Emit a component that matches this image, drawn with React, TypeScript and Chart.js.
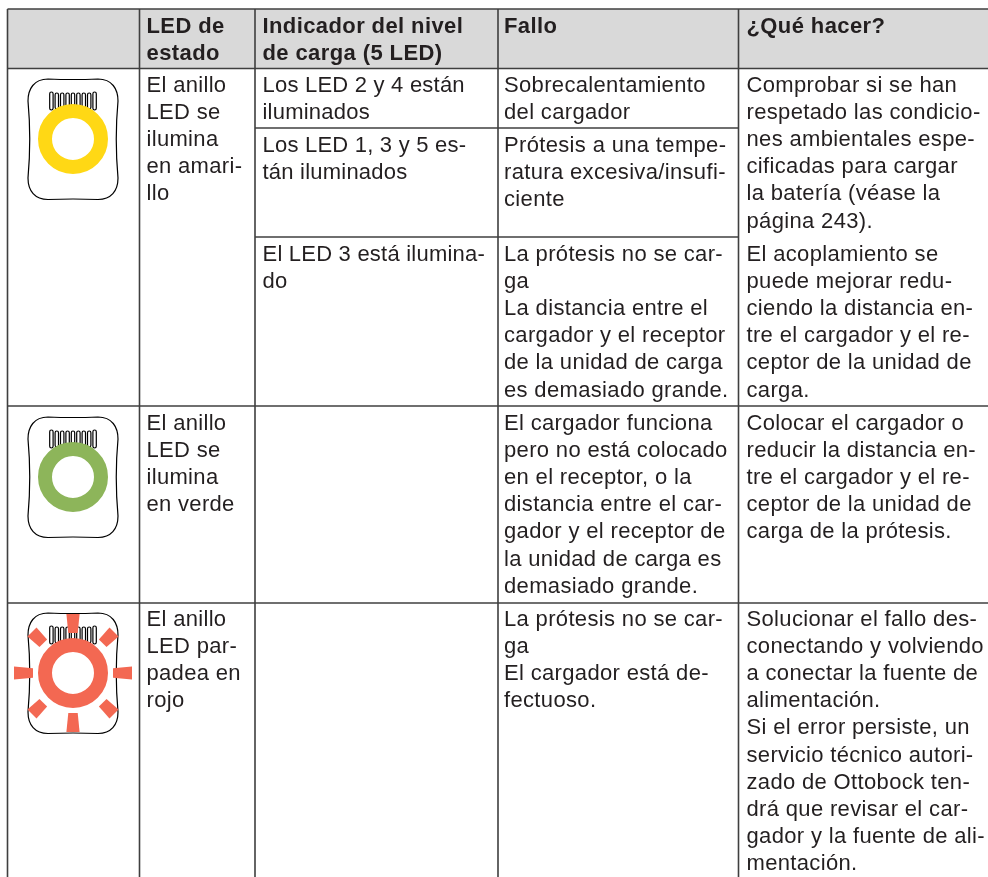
import React, { useEffect, useRef } from "react";
import { Chart, registerables } from "chart.js";

Chart.register(...registerables);

const W = 988;
const H = 877;

// ---- table content ----
const headLed = ["LED de", "estado"];
const headIndicator = ["Indicador del nivel", "de carga (5 LED)"];
const headFault = ["Fallo"];
const headAction = ["¿Qué hacer?"];

const statusYellow = ["El anillo", "LED se", "ilumina", "en amari-", "llo"];
const statusGreen = ["El anillo", "LED se", "ilumina", "en verde"];
const statusRed = ["El anillo", "LED par-", "padea en", "rojo"];

const indicatorA = ["Los LED 2 y 4 están", "iluminados"];
const indicatorB = ["Los LED 1, 3 y 5 es-", "tán iluminados"];
const indicatorC = ["El LED 3 está ilumina-", "do"];

const faultA = ["Sobrecalentamiento", "del cargador"];
const faultB = ["Prótesis a una tempe-", "ratura excesiva/insufi-", "ciente"];
const faultC = ["La prótesis no se car-", "ga", "La distancia entre el", "cargador y el receptor", "de la unidad de carga", "es demasiado grande."];
const faultD = ["El cargador funciona", "pero no está colocado", "en el receptor, o la", "distancia entre el car-", "gador y el receptor de", "la unidad de carga es", "demasiado grande."];
const faultE = ["La prótesis no se car-", "ga", "El cargador está de-", "fectuoso."];

const actionA = ["Comprobar si se han", "respetado las condicio-", "nes ambientales espe-", "cificadas para cargar", "la batería (véase la", "página 243)."];
const actionB = ["El acoplamiento se", "puede mejorar redu-", "ciendo la distancia en-", "tre el cargador y el re-", "ceptor de la unidad de", "carga."];
const actionC = ["Colocar el cargador o", "reducir la distancia en-", "tre el cargador y el re-", "ceptor de la unidad de", "carga de la prótesis."];
const actionD = ["Solucionar el fallo des-", "conectando y volviendo", "a conectar la fuente de", "alimentación.", "Si el error persiste, un", "servicio técnico autori-", "zado de Ottobock ten-", "drá que revisar el car-", "gador y la fuente de ali-", "mentación."];

// ---- led rings ----
const ringColors = ["#FFD815", "#8DB55A", "#F36852"];
const ringCentres = [
  { x: 73, y: 139 },
  { x: 73, y: 477 },
  { x: 73, y: 673 },
];
const rayAngles = [0, 45, 90, 135, 180, 225, 270, 315];

// ---- table rules ----
const columnRules = [7.5, 139.5, 255, 498, 738.5];
const headerRules = [9, 68.5];
const bodyRules = [406, 603];
const partialRules = [
  { y: 128, from: 255, to: 738.5 },
  { y: 237, from: 255, to: 738.5 },
];

// ---- text placement: lines, left edge, first baseline ----
const textX = [146.5, 262.5, 504, 746.5];
const spacing = ["0.32px", "0.22px", "0.34px", "0.34px"];
const LINE = 27.1;
const placements: [string[], number, number, boolean][] = [
  [headLed, 0, 33, true],
  [headIndicator, 1, 33, true],
  [headFault, 2, 33, true],
  [headAction, 3, 33, true],
  [statusYellow, 0, 92, false],
  [statusGreen, 0, 430, false],
  [statusRed, 0, 626, false],
  [indicatorA, 1, 92, false],
  [indicatorB, 1, 152, false],
  [indicatorC, 1, 261, false],
  [faultA, 2, 92, false],
  [faultB, 2, 152, false],
  [faultC, 2, 261, false],
  [faultD, 2, 430, false],
  [faultE, 2, 626, false],
  [actionA, 3, 92, false],
  [actionB, 3, 261, false],
  [actionC, 3, 430, false],
  [actionD, 3, 626, false],
];

const RULE = "#3f3f3f";

function ruleDataset(x1: number, y1: number, x2: number, y2: number) {
  return {
    type: "line" as const,
    data: [{ x: x1, y: y1 }, { x: x2, y: y2 }],
    borderColor: RULE,
    borderWidth: 1.6,
    pointRadius: 0,
    fill: false,
    order: 5,
  };
}

function rayPoints(cx: number, cy: number, deg: number) {
  const a = (deg * Math.PI) / 180;
  const ux = Math.cos(a), uy = Math.sin(a);
  const nx = -uy, ny = ux;
  const diagonal = deg % 90 !== 0;
  const r0 = diagonal ? 42 : 40;
  const r1 = diagonal ? 58 : 59;
  const w0 = diagonal ? 5.4 : 4.7;
  const w1 = diagonal ? 6.4 : 6.6;
  return [
    { x: cx + ux * r0 + nx * w0, y: cy + uy * r0 + ny * w0 },
    { x: cx + ux * r1 + nx * w1, y: cy + uy * r1 + ny * w1 },
    { x: cx + ux * r1 - nx * w1, y: cy + uy * r1 - ny * w1 },
    { x: cx + ux * r0 - nx * w0, y: cy + uy * r0 - ny * w0 },
    { x: cx + ux * r0 + nx * w0, y: cy + uy * r0 + ny * w0 },
  ];
}

const tablePlugin = {
  id: "tablePlugin",
  beforeDatasetsDraw(chart: any) {
    const ctx = chart.ctx as CanvasRenderingContext2D;
    const sx = chart.scales.x, sy = chart.scales.y;
    ctx.save();
    // charger bodies
    ringCentres.forEach((c) => {
      const px = sx.getPixelForValue(c.x), py = sy.getPixelForValue(c.y);
      ctx.save();
      ctx.translate(px, py);
      ctx.strokeStyle = "#000";
      ctx.lineWidth = 1.2;
      ctx.beginPath();
      ctx.moveTo(-25, -60);
      ctx.quadraticCurveTo(0, -59, 25, -60);
      ctx.bezierCurveTo(39, -60, 45, -50, 45, -38);
      ctx.quadraticCurveTo(41.5, 0, 45, 39);
      ctx.bezierCurveTo(45, 52, 38, 60.5, 25, 60.5);
      ctx.quadraticCurveTo(0, 59.5, -25, 60.5);
      ctx.bezierCurveTo(-38, 60.5, -45, 52, -45, 39);
      ctx.quadraticCurveTo(-41.5, 0, -45, -38);
      ctx.bezierCurveTo(-45, -50, -39, -60, -25, -60);
      ctx.closePath();
      ctx.stroke();
      // contact comb
      for (let i = -4; i <= 4; i++) {
        const top = Math.abs(i) === 4 ? -47 : -46;
        const bottom = Math.abs(i) === 4 ? -29 : -30;
        ctx.beginPath();
        ctx.roundRect(i * 5.4 - 1.7, top, 3.4, bottom - top, 1.7);
        ctx.lineWidth = 1.2;
        ctx.stroke();
      }
      ctx.restore();
    });
    ctx.restore();
  },
  afterDatasetsDraw(chart: any) {
    const ctx = chart.ctx as CanvasRenderingContext2D;
    const sx = chart.scales.x, sy = chart.scales.y;
    ctx.save();
    ctx.fillStyle = "#231f20";
    ctx.textAlign = "left";
    ctx.textBaseline = "alphabetic";
    placements.forEach(([lines, col, base, bold]) => {
      ctx.font = `${bold ? "bold " : ""}22px "Liberation Sans", Arial, sans-serif`;
      (ctx as any).letterSpacing = bold ? "0.4px" : spacing[col];
      lines.forEach((t, i) => {
        ctx.fillText(t, sx.getPixelForValue(textX[col]), sy.getPixelForValue(base + i * LINE));
      });
    });
    ctx.restore();
  },
};

export default function App() {
  const ref = useRef<HTMLCanvasElement | null>(null);
  useEffect(() => {
    if (!ref.current) return;
    const datasets: any[] = [];

    // header band
    datasets.push({
      type: "line",
      data: [
        { x: columnRules[0], y: headerRules[0] },
        { x: W, y: headerRules[0] },
        { x: W, y: headerRules[1] },
        { x: columnRules[0], y: headerRules[1] },
        { x: columnRules[0], y: headerRules[0] },
      ],
      borderWidth: 0,
      pointRadius: 0,
      backgroundColor: "#d9d9d9",
      fill: "shape",
      order: 9,
    });

    columnRules.forEach((x) => datasets.push(ruleDataset(x, headerRules[0], x, H)));
    [...headerRules, ...bodyRules].forEach((y) => datasets.push(ruleDataset(columnRules[0], y, W, y)));
    partialRules.forEach((r) => datasets.push(ruleDataset(r.from, r.y, r.to, r.y)));

    // rings
    ringCentres.forEach((c, i) =>
      datasets.push({
        type: "scatter",
        data: [c],
        pointRadius: 28,
        pointHoverRadius: 28,
        pointBorderWidth: 14,
        pointBackgroundColor: "rgba(0,0,0,0)",
        pointBorderColor: ringColors[i],
        order: 1,
      })
    );

    // blinking rays of the red state
    rayAngles.forEach((deg) =>
      datasets.push({
        type: "line",
        data: rayPoints(ringCentres[2].x, ringCentres[2].y, deg),
        borderWidth: 0,
        pointRadius: 0,
        backgroundColor: ringColors[2],
        fill: "shape",
        tension: 0,
        order: 2,
      })
    );

    const chart = new Chart(ref.current, {
      type: "scatter",
      data: { datasets },
      options: {
        animation: false,
        responsive: false,
        devicePixelRatio: 1,
        layout: { padding: 0, autoPadding: false },
        events: [],
        plugins: { legend: { display: false }, tooltip: { enabled: false }, title: { display: false } },
        scales: {
          x: { type: "linear", min: 0, max: W, display: false },
          y: { type: "linear", min: 0, max: H, reverse: true, display: false },
        },
      },
      plugins: [tablePlugin],
    } as any);
    return () => chart.destroy();
  }, []);

  return (
    <div style={{ position: "fixed", left: 0, top: 0, width: W, height: H, background: "#fff" }}>
      <canvas ref={ref} width={W} height={H} style={{ display: "block" }} />
    </div>
  );
}
